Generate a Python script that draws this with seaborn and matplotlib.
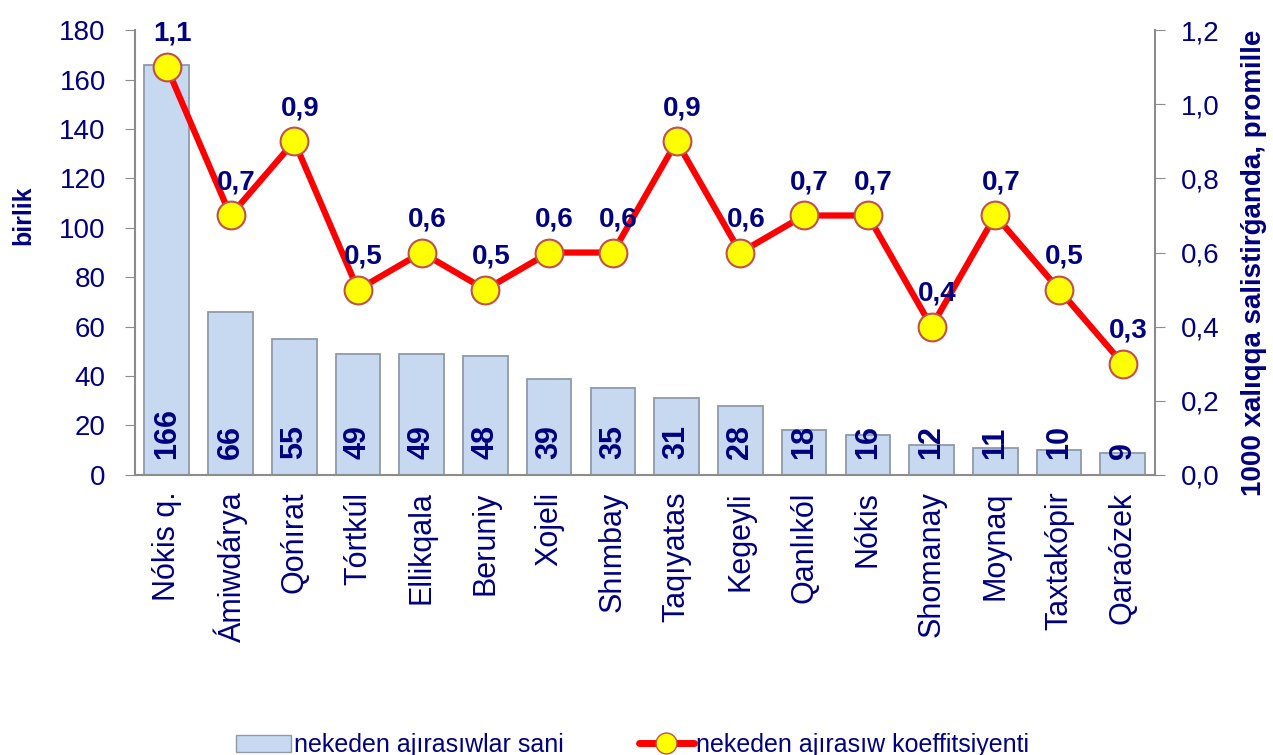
import matplotlib.pyplot as plt
import matplotlib
import numpy as np
import seaborn as sns
import pandas as pd

districts = ["Nókis q.", "Ámiwdárya", "Qońırat", "Tórtkúl", "Ellikqala", "Beruniy",
             "Xojeli", "Shımbay", "Taqıyatas", "Kegeyli", "Qanlıkól", "Nókis",
             "Shomanay", "Moynaq", "Taxtakópir", "Qaraózek"]
counts = [166, 66, 55, 49, 49, 48, 39, 35, 31, 28, 18, 16, 12, 11, 10, 9]
coef = [1.1, 0.7, 0.9, 0.5, 0.6, 0.5, 0.6, 0.6, 0.9, 0.6, 0.7, 0.7, 0.4, 0.7, 0.5, 0.3]
left_ticks = [0, 20, 40, 60, 80, 100, 120, 140, 160, 180]
right_ticks = [0.0, 0.2, 0.4, 0.6, 0.8, 1.0, 1.2]

sns.set_style("white")
plt.rcParams['font.family'] = ['Liberation Sans', 'DejaVu Sans']
navy = "#000080"
grey = "#8c8c8c"

df = pd.DataFrame({"district": districts, "count": counts, "coef": coef})
df["pos"] = np.arange(len(df))

fig = plt.figure(figsize=(12.73, 7.55), dpi=100)
ax = fig.add_axes([0.106, 0.371, 0.801, 0.589])

sns.barplot(data=df, x="district", y="count", ax=ax, color="#c6d9f1",
            saturation=1, width=0.7, edgecolor="#8f9aa8", linewidth=1.3)
for i, v in enumerate(counts):
    ax.text(i, 6.5, str(v), rotation=90, ha="center", va="bottom",
            fontsize=22, fontweight="bold", color=navy)

ax.set_ylim(0, 180)
ax.set_xlim(-0.5, len(districts) - 0.5)
ax.set_yticks(left_ticks)
ax.set_yticklabels([str(t) for t in left_ticks], fontsize=20, color=navy)
ax.set_xticks(range(len(districts)))
ax.set_xticklabels(districts, rotation=90, fontsize=22, color=navy)
ax.set_xticks(np.arange(-0.5, len(districts), 1), minor=True)
ax.set_xlabel("")
ax.set_ylabel("birlik", fontsize=18, fontweight="bold", color=navy)
ax.yaxis.set_label_coords(-0.098, 0.584)
ax.tick_params(axis="y", direction="out", length=7, color=grey, pad=14)
ax.tick_params(axis="x", which="major", length=0, pad=12)
ax.tick_params(axis="x", which="minor", direction="out", length=7, color=grey)
for s in ["top", "right"]:
    ax.spines[s].set_visible(False)
for s in ["left", "bottom"]:
    ax.spines[s].set_color(grey)
    ax.spines[s].set_linewidth(1.5)

ax2 = ax.twinx()
sns.lineplot(data=df, x="pos", y="coef", ax=ax2, color="#ff0000", linewidth=4.5,
             marker="o", markersize=20, markerfacecolor="#ffff00",
             markeredgecolor="#c0504d", markeredgewidth=1.5)
for i, v in enumerate(coef):
    ax2.annotate(f"{v:.1f}".replace(".", ","), (i, v), xytext=(4, 24),
                 textcoords="offset points", ha="center", va="center",
                 fontsize=20, fontweight="bold", color=navy)
ax2.set_ylim(0, 1.2)
ax2.set_yticks(right_ticks)
ax2.set_yticklabels([f"{t:.1f}".replace(".", ",") for t in right_ticks],
                    fontsize=20, color=navy)
ax2.set_xlabel("")
ax2.set_ylabel("1000 xalıqqa salistirǵanda, promille", fontsize=20,
               fontweight="bold", color=navy)
ax2.yaxis.set_label_coords(1.085, 0.476)
ax2.tick_params(axis="y", direction="out", length=7, color=grey, pad=12)
for s in ["top", "left", "bottom"]:
    ax2.spines[s].set_visible(False)
ax2.spines["right"].set_color(grey)
ax2.spines["right"].set_linewidth(1.5)

bar_h = matplotlib.patches.Patch(facecolor="#c6d9f1", edgecolor="#8f9aa8",
                                 label="nekeden ajırasıwlar sani")
line_h = matplotlib.lines.Line2D([], [], color="#ff0000", linewidth=5, marker="o",
                                 markersize=15, markerfacecolor="#ffff00",
                                 markeredgecolor="#c0504d",
                                 label="nekeden ajırasıw koeffitsiyenti")
fig.legend(handles=[bar_h, line_h], loc="center", bbox_to_anchor=(0.497, 0.013),
           ncol=2, frameon=False, fontsize=18, labelcolor=navy,
           handlelength=2.2, handletextpad=0.1, columnspacing=3)

fig.savefig("out.png", dpi=100)
